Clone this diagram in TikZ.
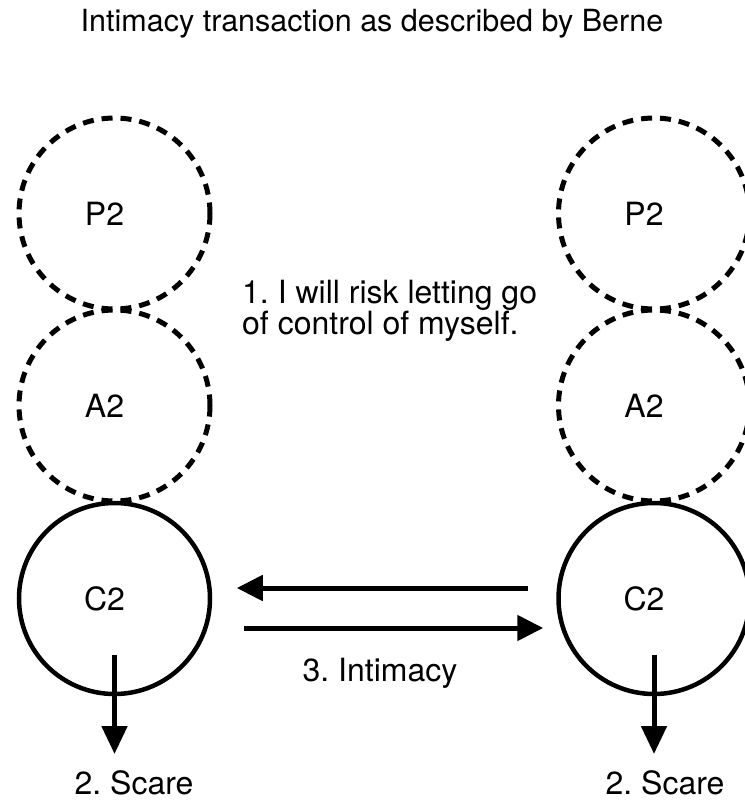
\documentclass[tikz,border=0pt]{standalone}
\usepackage{fontspec}
\setmainfont{TeX Gyre Heros}
\frenchspacing
\usetikzlibrary{arrows.meta}
\begin{document}
\begin{tikzpicture}[x=1pt,y=-1pt,
  ring/.style={circle,draw,line width=4.5pt,minimum size=191pt,inner sep=0pt},
  dashring/.style={ring,line width=5pt,dash pattern=on 11pt off 8pt},
  lbl/.style={font=\fontsize{32}{32}\selectfont,inner sep=0pt},
  arr/.style={line width=5pt,-{Triangle[length=26pt,width=25pt]}}]
\useasboundingbox (0,0) rectangle (744,800);

% title
\node[lbl,font=\fontsize{30.5}{30.5}\selectfont,anchor=base] (title) at (372,32)
  {Intimacy transaction as described by Berne};

% left ego states
\node[dashring] (P2L) at (114.5,213.5) {};
\node[dashring] (A2L) at (114.5,405.5) {};
\node[ring] (C2L) at (114.5,598.5) {};
\node[lbl] (tP2L) at ([xshift=-10pt]P2L.center) {P2};
\node[lbl] (tA2L) at ([xshift=-10pt]A2L.center) {A2};
\node[lbl] (tC2L) at ([xshift=-10pt]C2L.center) {C2};

% right ego states
\node[dashring] (P2R) at (654,213.5) {};
\node[dashring] (A2R) at (654,405.5) {};
\node[ring] (C2R) at (654,598.5) {};
\node[lbl] (tP2R) at ([xshift=-10pt]P2R.center) {P2};
\node[lbl] (tA2R) at ([xshift=-10pt]A2R.center) {A2};
\node[lbl] (tC2R) at ([xshift=-10pt]C2R.center) {C2};

% message text
\node[lbl,anchor=base west] (risk1) at (242,303) {1. I will risk letting go};
\node[lbl,anchor=base west] (risk2) at (242,334) {of control of myself.};

% transactions between the two Child states
\draw[arr] ([xshift=-28pt,yshift=10.5pt]C2R.west) -- ([xshift=24.5pt,yshift=10.5pt]C2L.east);
\draw[arr] ([xshift=31.5pt,yshift=-29.5pt]C2L.east) -- ([xshift=-13pt,yshift=-29.5pt]C2R.west);
\node[lbl,anchor=base] (intim) at (380,681) {3. Intimacy};

% scare reactions
\coordinate (scL) at (114.5,754);
\coordinate (scR) at (654,754);
\draw[arr,-{Triangle[length=28pt,width=25pt]}] ([yshift=-56.5pt]C2L.center) -- (scL);
\draw[arr,-{Triangle[length=28pt,width=25pt]}] ([yshift=-56.5pt]C2R.center) -- (scR);
\node[lbl,anchor=base] (scareL) at (134,794) {2. Scare};
\node[lbl,anchor=base] (scareR) at (665,794) {2. Scare};
\end{tikzpicture}
\end{document}
